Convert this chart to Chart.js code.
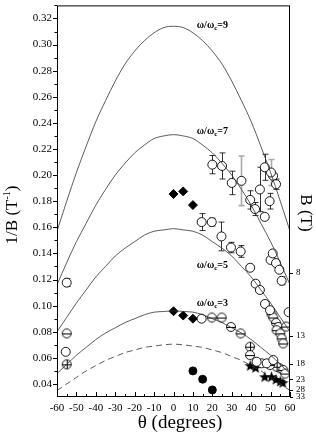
<!DOCTYPE html>
<html>
<head>
<meta charset="utf-8">
<script src="https://cdn.jsdelivr.net/npm/chart.js@4.4.0/dist/chart.umd.min.js"></script>
<style>
  html, body { margin: 0; padding: 0; background: #fff; }
</style>
</head>
<body>
<canvas id="chart" width="316" height="436"></canvas>
<script>
// curves (1/B vs theta), every 5 degrees
const THETA_CURVE = [-60,-55,-50,-45,-40,-35,-30,-25,-20,-15,-10,-5,0,5,10,15,20,25,30,35,40,45,50,55,60];
const CURVE_9 = [0.157,0.180,0.202,0.222,0.241,0.257,0.272,0.285,0.295,0.303,0.309,0.313,0.314,0.313,0.309,0.303,0.295,0.285,0.272,0.257,0.241,0.222,0.202,0.180,0.157];
const CURVE_7 = [0.116,0.133,0.149,0.163,0.177,0.189,0.200,0.209,0.217,0.223,0.228,0.230,0.231,0.230,0.228,0.223,0.217,0.209,0.200,0.189,0.177,0.163,0.149,0.133,0.116];
const CURVE_5 = [0.080,0.091,0.102,0.112,0.122,0.130,0.138,0.144,0.149,0.154,0.157,0.158,0.159,0.158,0.157,0.154,0.149,0.144,0.138,0.130,0.122,0.112,0.102,0.091,0.080];
const CURVE_3 = [0.048,0.055,0.062,0.068,0.074,0.079,0.083,0.087,0.090,0.093,0.095,0.0955,0.096,0.0955,0.095,0.093,0.090,0.087,0.083,0.079,0.074,0.068,0.062,0.055,0.048];
const CURVE_DASH = [0.035,0.040,0.045,0.050,0.054,0.058,0.061,0.064,0.066,0.068,0.069,0.070,0.0705,0.070,0.069,0.068,0.066,0.064,0.061,0.058,0.054,0.050,0.045,0.040,0.035];

// open circles with black error bars
const ERR_THETA = [20, 25, 30, 39.5, 42, 44.5, 47, 49.5, 52.8, 14.5, 19.7, 24.7, 29.6, 34.6, 55.7, -55];
const ERR_VAL   = [0.208, 0.207, 0.194, 0.181, 0.174, 0.189, 0.206, 0.180, 0.193, 0.164, 0.164, 0.153, 0.1445, 0.1415, 0.119, 0.1176];
const ERR_SIZE  = [0.007, 0.010, 0.009, 0.007, 0.005, 0.017, 0.010, 0.006, 0.004, 0.0065, 0.003, 0.011, 0.004, 0.0045, 0.003, 0.003];
// open circles with grey error bars
const GREY_THETA = [35, 50.2];
const GREY_VAL   = [0.1956, 0.202];
const GREY_SIZE  = [0.019, 0.010];
// plain open circles
const OPEN_THETA = [47, 51.3, 39.5, 42.3, 44.5, 47.1, 49.7, 50, 51.1, 52.8, 54.5, 59.3, -55.5, 14.5, 45.4, 48, 51.4, 42.8];
const OPEN_VAL   = [0.168, 0.1995, 0.129, 0.1168, 0.112, 0.1013, 0.0965, 0.135, 0.140, 0.1326, 0.1275, 0.095, 0.0646, 0.090, 0.0558, 0.0558, 0.0583, 0.057];
// striped circles
const HBAR_THETA = [19.7, 24.8, 29.6, 34.6, 39.4, 50.5, 51.4, 52.8, 54, 53.1, 55, 55.7, 56.5, 58, -55, 56.5, 57.5, 49.7];
const HBAR_VAL   = [0.0909, 0.0909, 0.0837, 0.0787, 0.0621, 0.0934, 0.0909, 0.0868, 0.0837, 0.0812, 0.0787, 0.0749, 0.071, 0.084, 0.0787, 0.0507, 0.048, 0.0545];
const CROSS_THETA = [39.4, -55, 54.8, 53.1];
const CROSS_VAL   = [0.0685, 0.055, 0.052, 0.0532];
// filled symbols
const DIAMOND_THETA = [0, 5, 10, 0, 5, 10];
const DIAMOND_VAL   = [0.1855, 0.1875, 0.177, 0.0957, 0.0924, 0.090];
const DOT_THETA = [10, 15, 20];
const DOT_VAL   = [0.050, 0.0436, 0.0354];
const STAR_THETA = [39.5, 42.3, 47, 50.5, 52.8, 55, 56.3];
const STAR_VAL   = [0.054, 0.0525, 0.0455, 0.0455, 0.0435, 0.042, 0.041];

// axes
const X_TICKS = [-60, -50, -40, -30, -20, -10, 0, 10, 20, 30, 40, 50, 60];
const Y_TICKS = [0.04, 0.06, 0.08, 0.10, 0.12, 0.14, 0.16, 0.18, 0.20, 0.22, 0.24, 0.26, 0.28, 0.30, 0.32];
const B_TICKS = [8, 13, 18, 23, 28, 33];
const CURVE_LABELS = ["9", "7", "5", "3"];
const LABEL_THETA = 12;
const LABEL_VAL = [0.3147, 0.2338, 0.1308, 0.102];

const SERIF = "'Liberation Serif', 'DejaVu Serif', serif";

function pairs(xs, ys) {
    return xs.map((x, i) => ({ x: x, y: ys[i] }));
}

function ringMarker(bar, cross) {
    const c = document.createElement("canvas");
    c.width = 12;
    c.height = 12;
    const g = c.getContext("2d");
    g.beginPath();
    g.arc(6, 6, 4.5, 0, Math.PI * 2);
    g.fillStyle = "#fff";
    g.fill();
    g.strokeStyle = "#000";
    g.lineWidth = 0.9;
    g.stroke();
    g.beginPath();
    if (bar || cross) {
        g.moveTo(1.5, 6.5); g.lineTo(10.5, 6.5);
    }
    if (cross) {
        g.moveTo(6.5, 1.5); g.lineTo(6.5, 10.5);
    }
    g.lineWidth = 1;
    g.stroke();
    return c;
}

function starMarker() {
    const c = document.createElement("canvas");
    c.width = 13;
    c.height = 13;
    const g = c.getContext("2d");
    g.beginPath();
    for (let i = 0; i < 10; i++) {
        const r = i % 2 === 0 ? 6 : 2.5;
        const a = -Math.PI / 2 + i * Math.PI / 5;
        const px = 6.5 + r * Math.cos(a), py = 7 + r * Math.sin(a);
        if (i === 0) g.moveTo(px, py); else g.lineTo(px, py);
    }
    g.closePath();
    g.fillStyle = "#000";
    g.fill();
    return c;
}

function curve(values, dash) {
    return {
        data: pairs(THETA_CURVE, values),
        showLine: true,
        borderColor: "#333",
        borderWidth: 0.8,
        borderDash: dash ? [6, 4] : [],
        pointRadius: 0,
        cubicInterpolationMode: "monotone",
        fill: false,
        yAxisID: "y",
    };
}

function markers(xs, ys, style, extra) {
    return Object.assign({
        data: pairs(xs, ys),
        showLine: false,
        pointStyle: style,
        pointRadius: 4.5,
        pointBorderWidth: 0.9,
        pointBorderColor: "#000",
        pointBackgroundColor: "#fff",
        yAxisID: "y",
    }, extra || {});
}

const errorBars = {
    id: "errorBars",
    beforeDatasetsDraw(chart) {
        const ctx = chart.ctx, x = chart.scales.x, y = chart.scales.y;
        chart.data.datasets.forEach(ds => {
            if (!ds.errors) return;
            ctx.save();
            ctx.strokeStyle = ds.errorColor;
            ctx.lineWidth = ds.errorWidth;
            ds.data.forEach((p, k) => {
                const px = Math.round(x.getPixelForValue(p.x)) + 0.5;
                const top = y.getPixelForValue(p.y + ds.errors[k]);
                const bot = y.getPixelForValue(p.y - ds.errors[k]);
                ctx.beginPath();
                ctx.moveTo(px, top); ctx.lineTo(px, bot);
                ctx.moveTo(px - 3, top); ctx.lineTo(px + 3, top);
                ctx.moveTo(px - 3, bot); ctx.lineTo(px + 3, bot);
                ctx.stroke();
            });
            ctx.restore();
        });
    }
};

function drawParts(ctx, parts, cx, cy, align) {
    let w = 0;
    parts.forEach(p => { ctx.font = p.font; w += ctx.measureText(p.t).width; });
    let px = align === "left" ? cx : cx - w / 2;
    parts.forEach(p => {
        ctx.font = p.font;
        ctx.fillText(p.t, px, cy + (p.dy || 0));
        px += ctx.measureText(p.t).width;
    });
}

const frame = {
    id: "frame",
    afterDraw(chart) {
        const ctx = chart.ctx, a = chart.chartArea;
        const x = chart.scales.x, y = chart.scales.y, y2 = chart.scales.y2;
        ctx.save();
        ctx.strokeStyle = "#000";
        ctx.lineWidth = 1;
        ctx.strokeRect(a.left + 0.5, a.top + 0.5, a.right - a.left - 1, a.bottom - a.top - 1);

        ctx.beginPath();
        // left axis: outward ticks, minor halfway
        Y_TICKS.forEach(v => {
            const p = Math.round(y.getPixelForValue(v)) + 0.5;
            ctx.moveTo(a.left - 4, p); ctx.lineTo(a.left, p);
            const m = Math.round(y.getPixelForValue(v + 0.01)) + 0.5;
            ctx.moveTo(a.left - 2.5, m); ctx.lineTo(a.left, m);
        });
        // bottom axis: inward ticks
        X_TICKS.forEach(v => {
            const p = Math.round(x.getPixelForValue(v)) + 0.5;
            ctx.moveTo(p, a.bottom); ctx.lineTo(p, a.bottom - 5);
            if (v < 60) {
                const m = Math.round(x.getPixelForValue(v + 5)) + 0.5;
                ctx.moveTo(m, a.bottom); ctx.lineTo(m, a.bottom - 3);
            }
        });
        // right axis (B scale)
        B_TICKS.forEach(b => {
            const p = Math.round(y2.getPixelForValue(1 / b)) + 0.5;
            ctx.moveTo(a.right, p); ctx.lineTo(a.right + 3, p);
        });
        ctx.stroke();

        ctx.fillStyle = "#000";
        ctx.textBaseline = "middle";
        ctx.textAlign = "left";

        // curve labels
        CURVE_LABELS.forEach((n, i) => {
            const px = x.getPixelForValue(LABEL_THETA);
            const py = y.getPixelForValue(LABEL_VAL[i]);
            drawParts(ctx, [
                { t: "ω/ω", font: "bold 10px " + SERIF },
                { t: "c", font: "bold 7px " + SERIF, dy: 3 },
                { t: "=" + n, font: "bold 10px " + SERIF },
            ], px, py, "left");
        });

        // left title
        ctx.save();
        ctx.translate(13, 215);
        ctx.rotate(-Math.PI / 2);
        drawParts(ctx, [
            { t: "1/B (T", font: "17px " + SERIF },
            { t: "-1", font: "10px " + SERIF, dy: -6 },
            { t: ")", font: "17px " + SERIF },
        ], 0, 0, "center");
        ctx.restore();

        // right title
        ctx.save();
        ctx.translate(305, 213);
        ctx.rotate(Math.PI / 2);
        drawParts(ctx, [{ t: "B (T)", font: "17px " + SERIF }], 0, 0, "center");
        ctx.restore();

        // bottom title
        drawParts(ctx, [{ t: "θ (degrees)", font: "19px " + SERIF }], 180, 423, "center");
        ctx.restore();
    }
};

const datasets = [
    curve(CURVE_9, false),
    curve(CURVE_7, false),
    curve(CURVE_5, false),
    curve(CURVE_3, false),
    curve(CURVE_DASH, true),
    markers(ERR_THETA, ERR_VAL, "circle", { errors: ERR_SIZE, errorColor: "#000", errorWidth: 0.8 }),
    markers(GREY_THETA, GREY_VAL, "circle", { errors: GREY_SIZE, errorColor: "#aaa", errorWidth: 1.6 }),
    markers(OPEN_THETA, OPEN_VAL, "circle"),
    markers(HBAR_THETA, HBAR_VAL, ringMarker(true, false)),
    markers(CROSS_THETA, CROSS_VAL, ringMarker(false, true)),
    markers(DIAMOND_THETA, DIAMOND_VAL, "rectRot", { pointRadius: 4.5, pointBackgroundColor: "#000" }),
    markers(DOT_THETA, DOT_VAL, "circle", { pointRadius: 4, pointBackgroundColor: "#000" }),
    markers(STAR_THETA, STAR_VAL, starMarker()),
];

function noPadV(s) { s.paddingTop = 0; s.paddingBottom = 0; }

new Chart(document.getElementById("chart"), {
    type: "scatter",
    data: { datasets: datasets },
    options: {
        responsive: false,
        animation: false,
        layout: { padding: { top: 3, left: 0, right: 0, bottom: 0 } },
        plugins: { legend: { display: false }, tooltip: { enabled: false } },
        scales: {
            x: {
                type: "linear",
                position: "bottom",
                min: -60,
                max: 60,
                afterBuildTicks: s => { s.ticks = X_TICKS.map(v => ({ value: v })); },
                afterFit: s => { s.height = 39; s.paddingLeft = 0; s.paddingRight = 0; },
                grid: { display: false, drawTicks: false },
                border: { display: false },
                ticks: {
                    font: { family: SERIF, size: 11 },
                    color: "#000",
                    padding: 5,
                    maxRotation: 0,
                    autoSkip: false,
                    callback: v => String(v),
                },
            },
            y: {
                type: "linear",
                position: "left",
                min: 0.03,
                max: 0.33,
                afterBuildTicks: s => { s.ticks = Y_TICKS.map(v => ({ value: v })); },
                afterFit: s => { s.width = 57; noPadV(s); },
                grid: { display: false, drawTicks: false },
                border: { display: false },
                ticks: {
                    font: { family: SERIF, size: 11 },
                    color: "#000",
                    padding: 5,
                    autoSkip: false,
                    callback: v => v.toFixed(2),
                },
            },
            y2: {
                type: "linear",
                position: "right",
                min: 0.03,
                max: 0.33,
                afterBuildTicks: s => { s.ticks = B_TICKS.map(b => ({ value: 1 / b })); },
                afterFit: s => { s.width = 26; noPadV(s); },
                grid: { display: false, drawTicks: false },
                border: { display: false },
                ticks: {
                    font: { family: SERIF, size: 9 },
                    color: "#000",
                    padding: 6,
                    autoSkip: false,
                    callback: (v, i) => String(B_TICKS[i]),
                },
            },
        },
    },
    plugins: [errorBars, frame],
});
</script>
</body>
</html>
